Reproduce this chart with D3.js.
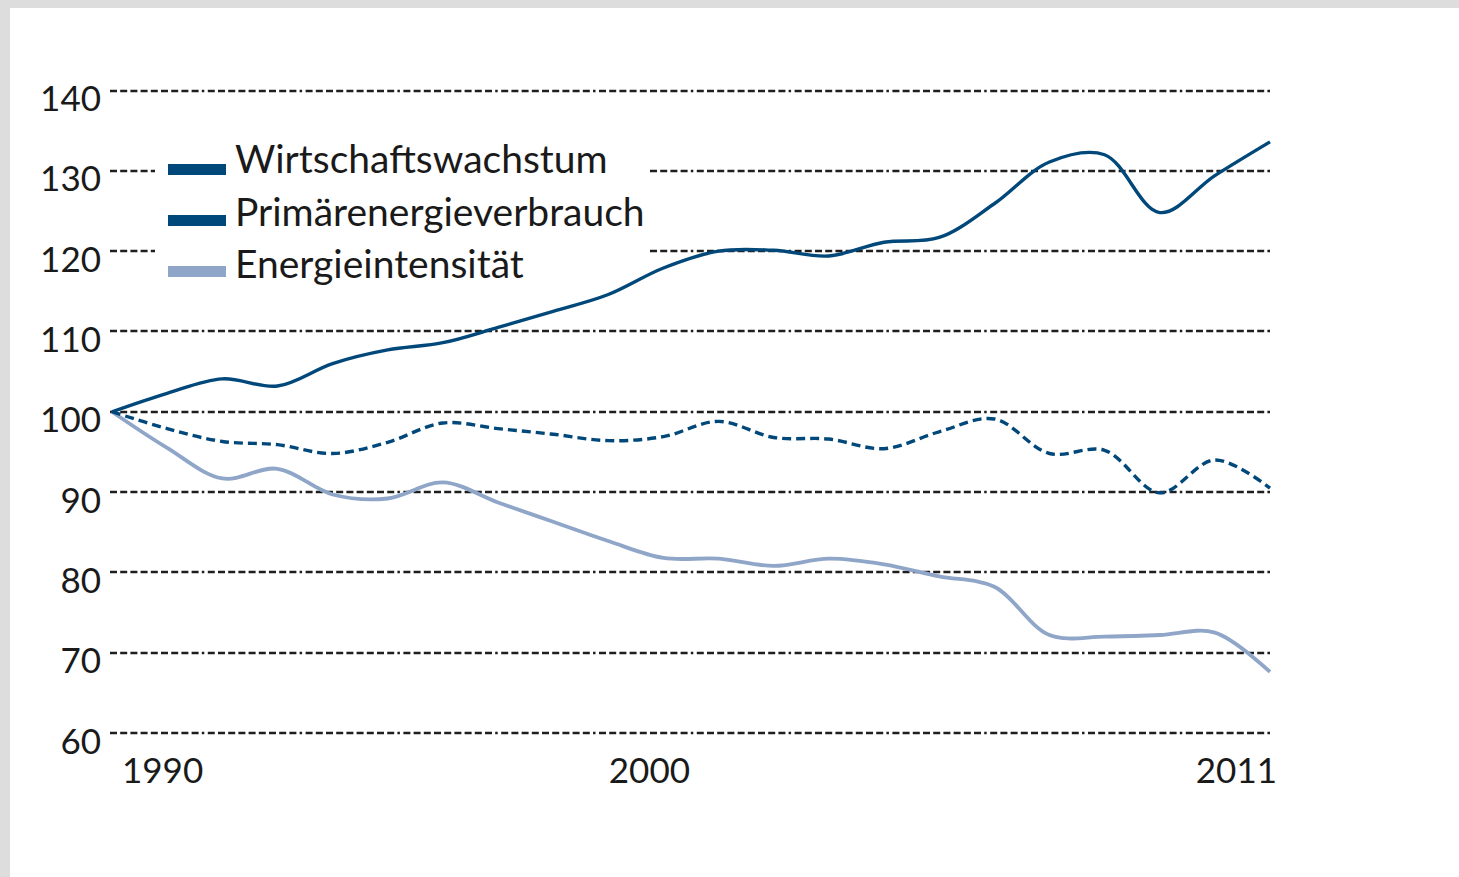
<!DOCTYPE html>
<html><head><meta charset="utf-8">
<script src="https://cdn.jsdelivr.net/npm/d3@7"></script>
<style>
html,body{margin:0;padding:0;background:#dcdddc;}
svg{display:block;}
</style></head>
<body>
<svg id="chart" width="1459" height="877"></svg>
<script>
const years = [1990,1991,1992,1993,1994,1995,1996,1997,1998,1999,2000,2001,2002,2003,2004,2005,2006,2007,2008,2009,2010,2011];
const wirtschaftswachstum = [100,102.3,104.1,103.2,106.0,107.7,108.6,110.5,112.5,114.6,117.9,120.0,120.1,119.4,121.1,121.7,125.9,131.1,132.0,124.8,129.4,133.6];
const primaerenergie = [100,97.9,96.3,95.9,94.8,96.2,98.6,97.9,97.2,96.4,96.9,98.8,96.8,96.6,95.4,97.5,99.1,94.8,95.2,89.9,94.0,90.5];
const energieintensitaet = [100,95.5,91.7,92.9,89.7,89.2,91.2,88.7,86.3,83.9,81.8,81.7,80.8,81.7,81.0,79.5,78.2,72.2,72.0,72.2,72.5,67.6];
const yTicks = [60,70,80,90,100,110,120,130,140];
const xTickYears = [1990,2000,2011];
const seriesNames = ["Wirtschaftswachstum","Primärenergieverbrauch","Energieintensität"];

const svg = d3.select("#chart");
svg.append("rect").attr("x",10).attr("y",8).attr("width",1449).attr("height",869).attr("fill","#fff");

const x = d3.scaleLinear().domain([1990,2011]).range([112,1270]);
const y = d3.scaleLinear().domain([60,140]).range([733,90.5]);
const gridLeft = 110;

const font = "Lato, 'Open Sans', sans-serif";
const textColor = "#1a1a1a";

// grid dash pattern: 9 dashes then a dot
const dashArr = [];
for (let i=0;i<9;i++){dashArr.push(7,3.2);}
dashArr.push(2.5,3.5);

const grid = svg.append("g");
yTicks.forEach(t=>{
  const yy = Math.round(y(t));
  grid.append("line")
    .attr("x1",gridLeft).attr("x2",x(2011))
    .attr("y1",yy).attr("y2",yy)
    .attr("stroke","#1e1e1e").attr("stroke-width",2.6)
    .attr("stroke-dasharray",dashArr.join(","));
});

// y axis labels
const yAxis = d3.axisLeft(y).tickValues(yTicks).tickSize(0).tickPadding(0);
const gy = svg.append("g").attr("transform",`translate(101,0)`).call(yAxis);
gy.select(".domain").remove();
gy.selectAll("text").attr("font-family",font).attr("font-size",35).attr("fill",textColor)
  .attr("text-anchor","end").attr("dy",null).attr("y",20);

// x axis labels
const gx = svg.append("g").attr("transform","translate(0,783)");
xTickYears.forEach((yr,i)=>{
  const anchor = i===0 ? "start" : (i===xTickYears.length-1 ? "end" : "middle");
  const dx = i===0 ? 10 : (i===xTickYears.length-1 ? 7 : -14);
  gx.append("text").attr("x",x(yr)+dx).attr("y",0)
    .attr("text-anchor",anchor)
    .attr("font-family",font).attr("font-size",35).attr("fill",textColor)
    .text(yr);
});

// legend background mask
svg.append("rect").attr("x",155).attr("y",135).attr("width",495).attr("height",155).attr("fill","#fff");

const darkBlue = "#00477a";
const lightBlue = "#8fa6c8";

const line = (vals)=> d3.line().x((d,i)=>x(years[i])).y(d=>y(d)).curve(d3.curveCatmullRom.alpha(0.5))(vals);

svg.append("path").attr("d",line(energieintensitaet)).attr("fill","none")
  .attr("stroke",lightBlue).attr("stroke-width",3.8).attr("stroke-linejoin","round");
svg.append("path").attr("d",line(primaerenergie)).attr("fill","none")
  .attr("stroke",darkBlue).attr("stroke-width",3.4).attr("stroke-dasharray","9,5");
svg.append("path").attr("d",line(wirtschaftswachstum)).attr("fill","none")
  .attr("stroke",darkBlue).attr("stroke-width",3.4).attr("stroke-linejoin","round");

// legend
const legendColors = [darkBlue,darkBlue,lightBlue];
const lg = svg.append("g");
seriesNames.forEach((name,i)=>{
  const base = 173 + i*52.5;
  lg.append("rect").attr("x",168).attr("y",base-9-i*1.5).attr("width",58).attr("height",11).attr("fill",legendColors[i]);
  lg.append("text").attr("x",235).attr("y",base)
    .attr("font-family",font).attr("font-size",39).attr("fill",textColor).text(name);
});
</script>
</body></html>
